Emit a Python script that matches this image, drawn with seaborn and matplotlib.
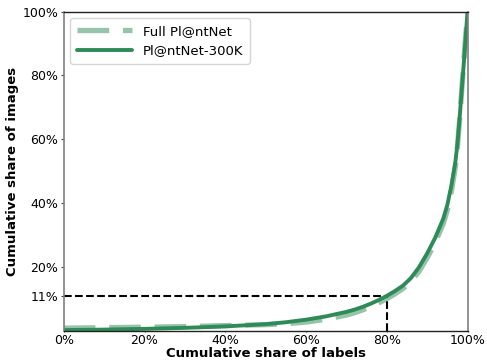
import matplotlib
matplotlib.use("Agg")
import matplotlib.pyplot as plt
import seaborn as sns
import pandas as pd
from matplotlib.ticker import FixedLocator, FuncFormatter

# Cumulative share of labels (classes sorted by image count, ascending)
label_share = [0.0, 0.10, 0.20, 0.30, 0.40, 0.50, 0.55, 0.60, 0.65, 0.70, 0.72, 0.74,
               0.76, 0.78, 0.80, 0.82, 0.84, 0.86, 0.88, 0.90, 0.92, 0.94, 0.95,
               0.96, 0.97, 0.975, 0.98, 0.99, 1.0]
# Cumulative share of images, full Pl@ntNet dataset
full_share = [0.009, 0.0105, 0.012, 0.014, 0.017, 0.020, 0.023, 0.028, 0.037, 0.050, 0.057, 0.066,
              0.076, 0.088, 0.101, 0.116, 0.133, 0.155, 0.187, 0.229, 0.277, 0.336, 0.378,
              0.437, 0.515, 0.575, 0.655, 0.830, 1.0]
# Cumulative share of images, Pl@ntNet-300K
k300_share = [0.003, 0.0045, 0.0068, 0.010, 0.0145, 0.0215, 0.0275, 0.0355, 0.046, 0.060, 0.067, 0.0755,
              0.0855, 0.097, 0.110, 0.125, 0.142, 0.166, 0.200, 0.243, 0.292, 0.352, 0.395,
              0.455, 0.530, 0.585, 0.660, 0.825, 1.0]

y_ticks = [0.11, 0.20, 0.40, 0.60, 0.80, 1.00]
x_ticks = [0.0, 0.2, 0.4, 0.6, 0.8, 1.0]
cut_x, cut_y = 0.80, 0.11

df = pd.DataFrame({"labels": label_share, "full": full_share, "k300": k300_share})

sns.set_style("white", rc={"text.color": "black", "axes.labelcolor": "black",
                           "xtick.color": "black", "ytick.color": "black"})
plt.rcParams["font.family"] = ["DejaVu Sans"]

fig, ax = plt.subplots(figsize=(4.87, 3.61), dpi=100)
fig.subplots_adjust(left=0.131, right=0.960, top=0.968, bottom=0.083)

sns.lineplot(data=df, x="labels", y="full", ax=ax, color="#2e8b57", alpha=0.5,
             linewidth=3.8, linestyle=(0, (6, 2.6)), label="Full Pl@ntNet",
             estimator=None, sort=False)
sns.lineplot(data=df, x="labels", y="k300", ax=ax, color="#2e8b57",
             linewidth=2.8, label="Pl@ntNet-300K", estimator=None, sort=False)

# Guide lines marking the share at 80% of labels
ax.plot([0, cut_x], [cut_y, cut_y], color="black", linestyle="--", linewidth=1.5, zorder=1)
ax.plot([cut_x, cut_x], [0, cut_y], color="black", linestyle="--", linewidth=1.5, zorder=1)

ax.set_xlim(0, 1)
ax.set_ylim(0, 1)
pct = FuncFormatter(lambda v, _: f"{v * 100:.0f}%")
ax.xaxis.set_major_locator(FixedLocator(x_ticks))
ax.yaxis.set_major_locator(FixedLocator(y_ticks))
ax.xaxis.set_major_formatter(pct)
ax.yaxis.set_major_formatter(pct)
ax.tick_params(axis="y", labelsize=9, length=2.5, width=0.8, color="#444444",
               left=True, pad=1.5)
ax.tick_params(axis="x", labelsize=9, length=1.0, width=0.8, color="#444444",
               bottom=True, pad=1.0)

ax.set_xlabel("Cumulative share of labels", fontsize=9.5, fontweight="bold", labelpad=0)
ax.set_ylabel("Cumulative share of images", fontsize=9.5, fontweight="bold", labelpad=2.5)

for side in ("left", "right"):
    ax.spines[side].set_color("#7f7f7f")
    ax.spines[side].set_linewidth(1.2)
for side in ("top", "bottom"):
    ax.spines[side].set_color("#222222")
    ax.spines[side].set_linewidth(1.0)

leg = ax.legend(loc="upper left", fontsize=9.5, handlelength=4.2, frameon=True,
                borderpad=0.5, labelspacing=0.5)
leg.get_frame().set_edgecolor("#cccccc")

fig.savefig("out.png", dpi=100)
